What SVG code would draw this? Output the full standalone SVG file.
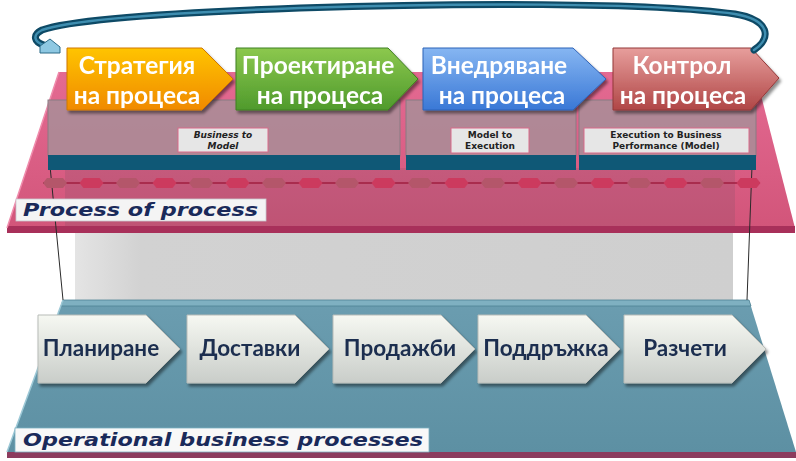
<svg xmlns="http://www.w3.org/2000/svg" xmlns:xlink="http://www.w3.org/1999/xlink" width="796" height="461" viewBox="0 0 796 461">
<defs>
<style>
.tt{font-family:"Lato","Open Sans","DejaVu Sans",sans-serif;font-weight:bold;font-size:24.5px;fill:#fff;text-anchor:middle}
.bt{font-family:"Lato","Open Sans","DejaVu Sans",sans-serif;font-weight:bold;font-size:22.5px;fill:#1b2d4f;text-anchor:middle}
.lb{font-family:"DejaVu Sans",sans-serif;font-weight:bold;font-size:9px;fill:#222;text-anchor:middle}
.plab{font-family:"DejaVu Sans",sans-serif;font-weight:bold;font-style:italic;fill:#1a2a5a}
.h1{fill:#b4566a}
.h2{fill:#cc3a5e}
.gbox{fill:#a88e98;fill-opacity:0.85;stroke:#8a7a82;stroke-width:1}
.gbase{fill:#0f5876}
.lbox{fill:#e6e6e6;stroke:#d86b8a;stroke-width:1}
</style>
<linearGradient id="gOr" x1="0" y1="0" x2="0" y2="1"><stop offset="0" stop-color="#ffc400"/><stop offset="1" stop-color="#f08a00"/></linearGradient>
<linearGradient id="gGr" x1="0" y1="0" x2="0" y2="1"><stop offset="0" stop-color="#8cc84e"/><stop offset="1" stop-color="#4f9a2c"/></linearGradient>
<linearGradient id="gBl" x1="0" y1="0" x2="0" y2="1"><stop offset="0" stop-color="#86b6f2"/><stop offset="1" stop-color="#3a78d6"/></linearGradient>
<linearGradient id="gRd" x1="0" y1="0" x2="0" y2="1"><stop offset="0" stop-color="#e79e9c"/><stop offset="1" stop-color="#b04646"/></linearGradient>
<linearGradient id="gWh" x1="0" y1="0" x2="0" y2="1"><stop offset="0" stop-color="#f6f8f2"/><stop offset="1" stop-color="#c9cdc9"/></linearGradient>
<linearGradient id="gPk" x1="0" y1="0" x2="0" y2="1"><stop offset="0" stop-color="#e46a92"/><stop offset="1" stop-color="#d2557a"/></linearGradient>
<linearGradient id="gTl" x1="0" y1="0" x2="0" y2="1"><stop offset="0" stop-color="#6b9db0"/><stop offset="1" stop-color="#5d90a3"/></linearGradient>
<linearGradient id="gWall" x1="0" y1="0" x2="1" y2="0"><stop offset="0" stop-color="#e4e4e4"/><stop offset="0.1" stop-color="#d2d2d2"/><stop offset="1" stop-color="#cfcfcf"/></linearGradient>
<filter id="sh" x="-10%" y="-10%" width="130%" height="140%"><feDropShadow dx="2" dy="3" stdDeviation="1.5" flood-color="#000" flood-opacity="0.45"/></filter>
<polygon id="hx" points="0,5 4,0 20,0 24,5 20,10 4,10"/>
<polygon id="bch" points="0,0 108,0 142,34 108,68 0,68"/>
</defs>
<rect width="796" height="461" fill="#fff"/>

<!-- grey wall -->
<rect x="75" y="230" width="658" height="72" fill="url(#gWall)"/>

<!-- bottom teal platform -->
<g id="operational-platform">
<polygon points="63,300 749,300 796,452 7,452" fill="url(#gTl)"/>
<polygon points="63,300 749,300 751,306 61,306" fill="#7fb0c1" stroke="#4f8396" stroke-width="0.8"/>
<polygon points="7,452 796,452 796,458 7,458" fill="#8c3c5e"/>
<line x1="7" y1="452" x2="63" y2="300" stroke="#9cc8d6" stroke-width="1.5"/>
</g>

<!-- pink platform -->
<g id="process-platform">
<polygon points="59,72 755,72 795,228 7,228" fill="url(#gPk)"/>
<rect x="65" y="168" width="670" height="60" fill="#6a5060" fill-opacity="0.18"/>
<polygon points="7,226 795,226 795,233 7,233" fill="#a8305a"/>
<line x1="7" y1="228" x2="59" y2="72" stroke="#f08cac" stroke-width="1.5"/>
</g>

<!-- thin vertical lines -->
<line x1="50" y1="166" x2="63" y2="300" stroke="#2a2a2a" stroke-width="1"/>
<line x1="752" y1="166" x2="747" y2="300" stroke="#2a2a2a" stroke-width="1"/>

<!-- grey model boxes -->
<g id="box-business-to-model">
<rect class="gbox" x="48" y="100" width="352" height="56"/>
<rect class="gbase" x="48" y="155" width="352" height="15"/>
<rect class="lbox" x="178" y="128" width="90" height="24"/>
<text class="lb" font-style="italic" x="223" y="138">Business to</text>
<text class="lb" font-style="italic" x="223" y="149">Model</text>
</g>
<g id="box-model-to-execution">
<rect class="gbox" x="406" y="100" width="170" height="56"/>
<rect class="gbase" x="406" y="155" width="170" height="15"/>
<rect class="lbox" x="451" y="128" width="78" height="25"/>
<text class="lb" x="490" y="138">Model to</text>
<text class="lb" x="490" y="149">Execution</text>
</g>
<g id="box-execution-to-business">
<rect class="gbox" x="579" y="100" width="177" height="56"/>
<rect class="gbase" x="579" y="155" width="177" height="15"/>
<rect class="lbox" x="584" y="128" width="165" height="25"/>
<text class="lb" x="666" y="138">Execution to Business</text>
<text class="lb" x="666" y="149">Performance (Model)</text>
</g>

<!-- hexagon chain -->
<g id="chain">
<line x1="43" y1="183" x2="760" y2="183" stroke="#a01e40" stroke-width="1.5"/>
<use xlink:href="#hx" class="h1" x="43" y="178"/>
<use xlink:href="#hx" class="h2" x="79.5" y="178"/>
<use xlink:href="#hx" class="h1" x="116" y="178"/>
<use xlink:href="#hx" class="h2" x="152.5" y="178"/>
<use xlink:href="#hx" class="h1" x="189" y="178"/>
<use xlink:href="#hx" class="h2" x="225.5" y="178"/>
<use xlink:href="#hx" class="h1" x="262" y="178"/>
<use xlink:href="#hx" class="h2" x="298.5" y="178"/>
<use xlink:href="#hx" class="h1" x="335" y="178"/>
<use xlink:href="#hx" class="h2" x="371.5" y="178"/>
<use xlink:href="#hx" class="h1" x="408" y="178"/>
<use xlink:href="#hx" class="h2" x="444.5" y="178"/>
<use xlink:href="#hx" class="h1" x="481" y="178"/>
<use xlink:href="#hx" class="h2" x="517.5" y="178"/>
<use xlink:href="#hx" class="h1" x="554" y="178"/>
<use xlink:href="#hx" class="h2" x="590.5" y="178"/>
<use xlink:href="#hx" class="h1" x="627" y="178"/>
<use xlink:href="#hx" class="h2" x="663.5" y="178"/>
<use xlink:href="#hx" class="h1" x="700" y="178"/>
<use xlink:href="#hx" class="h2" x="736.5" y="178"/>
</g>

<!-- labels -->
<g id="label-process-of-process">
<rect x="16" y="199" width="250" height="22" fill="#f4f4f4" stroke="#c8c8d0" stroke-width="0.8"/>
<text class="plab" x="23" y="216" font-size="17" textLength="235" lengthAdjust="spacingAndGlyphs">Process of process</text>
</g>
<g id="label-operational">
<rect x="15" y="428" width="414" height="24" fill="#f8f8f8" stroke="#7ab0c0" stroke-width="0.8"/>
<text class="plab" x="23" y="446" font-size="17" textLength="400" lengthAdjust="spacingAndGlyphs">Operational business processes</text>
</g>

<!-- top chevrons -->
<g id="step-strategy" filter="url(#sh)">
<polygon points="67,48 202,48 233,79 202,110 67,110" fill="url(#gOr)" stroke="#d07800" stroke-width="1"/>
<text class="tt" x="137" y="74">Стратегия</text>
<text class="tt" x="137" y="104">на процеса</text>
</g>
<g id="step-design" filter="url(#sh)">
<polygon points="236,48 388,48 418,79 388,110 236,110" fill="url(#gGr)" stroke="#3f8022" stroke-width="1"/>
<text class="tt" x="318" y="74">Проектиране</text>
<text class="tt" x="320" y="104">на процеса</text>
</g>
<g id="step-deploy" filter="url(#sh)">
<polygon points="423,48 573,48 606,79 573,110 423,110" fill="url(#gBl)" stroke="#2d62b8" stroke-width="1"/>
<text class="tt" x="499" y="74">Внедряване</text>
<text class="tt" x="502" y="104">на процеса</text>
</g>
<g id="step-control" filter="url(#sh)">
<polygon points="613,48 751,48 779,78 751,110 613,110" fill="url(#gRd)" stroke="#943838" stroke-width="1"/>
<text class="tt" x="682" y="74">Контрол</text>
<text class="tt" x="683" y="104">на процеса</text>
</g>

<!-- bottom chevrons -->
<g id="op-planning" filter="url(#sh)">
<use xlink:href="#bch" x="38" y="315" fill="url(#gWh)" stroke="#b8bcb8" stroke-width="1"/>
<text class="bt" x="101" y="356">Планиране</text>
</g>
<g id="op-delivery" filter="url(#sh)">
<use xlink:href="#bch" x="187" y="315" fill="url(#gWh)" stroke="#b8bcb8" stroke-width="1"/>
<text class="bt" x="250" y="356">Доставки</text>
</g>
<g id="op-sales" filter="url(#sh)">
<use xlink:href="#bch" x="333" y="315" fill="url(#gWh)" stroke="#b8bcb8" stroke-width="1"/>
<text class="bt" x="400" y="356">Продажби</text>
</g>
<g id="op-support" filter="url(#sh)">
<use xlink:href="#bch" x="478" y="315" fill="url(#gWh)" stroke="#b8bcb8" stroke-width="1"/>
<text class="bt" x="546" y="356">Поддръжка</text>
</g>
<g id="op-settlements" filter="url(#sh)">
<use xlink:href="#bch" x="624" y="315" fill="url(#gWh)" stroke="#b8bcb8" stroke-width="1"/>
<text class="bt" x="685" y="356">Разчети</text>
</g>

<!-- connectors -->
<g id="connectors">
<path d="M754,50 C772,38 770,20 735,14 C650,2 450,3 300,8 C160,13 70,20 42,30 C32,35 34,42 44,45" fill="none" stroke="#0e4a66" stroke-width="7" stroke-linecap="round"/>
<path d="M754,50 C772,38 770,20 735,14 C650,2 450,3 300,8 C160,13 70,20 42,30 C32,35 34,42 44,45" fill="none" stroke="#3f8eb0" stroke-width="2.5" stroke-linecap="round"/>
<polygon points="40,46 50,39 60,47 60,53 40,53" fill="#8ec8e2" stroke="#2a6a88" stroke-width="1"/>
</g>
</svg>
